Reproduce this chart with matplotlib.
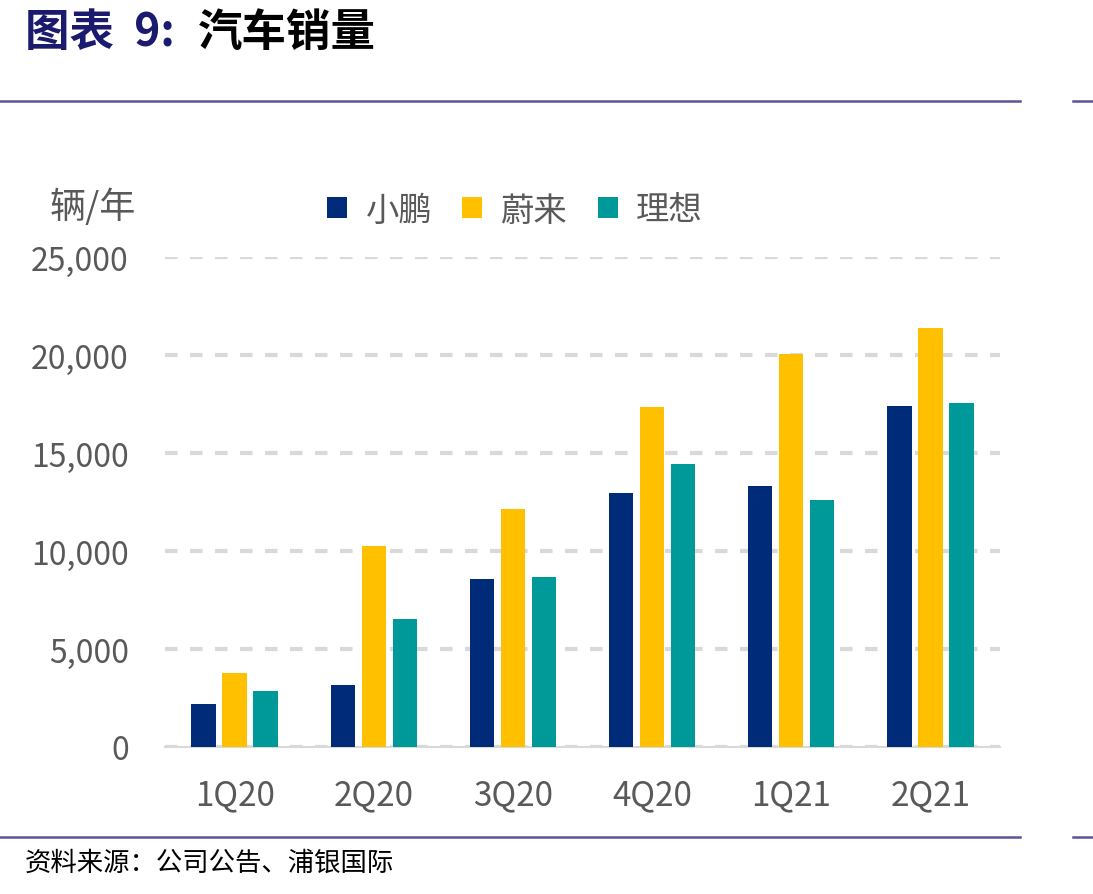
import numpy as np
import matplotlib.pyplot as plt
from matplotlib.lines import Line2D

plt.rcParams['font.family'] = ['Noto Sans CJK SC', 'DejaVu Sans']

quarters = ['1Q20', '2Q20', '3Q20', '4Q20', '1Q21', '2Q21']
xpeng = [2200, 3160, 8580, 12960, 13340, 17400]
nio = [3800, 10250, 12140, 17350, 20060, 21360]
li = [2850, 6550, 8660, 14430, 12580, 17550]
yticks = [0, 5000, 10000, 15000, 20000, 25000]

colors = ['#002b78', '#ffc000', '#009999']
names = ['小鹏', '蔚来', '理想']

fig = plt.figure(figsize=(10.93, 8.95), dpi=100)
ax = fig.add_axes([165 / 1093, 1 - 748 / 895, 835 / 1093, 490 / 895])

x = np.arange(len(quarters))
w = 0.175
off = 0.223
for i, (vals, c, n) in enumerate(zip([xpeng, nio, li], colors, names)):
    ax.bar(x + (i - 1) * off, vals, width=w, color=c, label=n, zorder=3)

ax.set_xlim(-0.5, 5.5)
ax.set_ylim(0, 25000)
ax.set_yticks(yticks)
ax.set_yticklabels([f'{v:,}' for v in yticks])
ax.set_xticks(x)
ax.set_xticklabels(quarters)
ax.yaxis.grid(True, color='#d9d9d9', linestyle=(0, (3, 3)), linewidth=3, zorder=0)
for s in ['top', 'right', 'left']:
    ax.spines[s].set_visible(False)
ax.spines['bottom'].set_color('#d9d9d9')
ax.spines['bottom'].set_linewidth(1.5)
ax.tick_params(axis='both', length=0, colors='#595959')
ax.tick_params(axis='x', pad=22, labelsize=24)
ax.tick_params(axis='y', pad=26, labelsize=23)

fig.text(50 / 1093, 1 - 207 / 895, '辆/年', fontsize=26, color='#595959', va='center')

leg = ax.legend(loc='center', bbox_to_anchor=(515 / 1093, 1 - 211 / 895), bbox_transform=fig.transFigure,
                ncol=3, frameon=False, fontsize=24, handlelength=0.6, handleheight=0.6,
                handletextpad=0.55, columnspacing=0.9)
for t in leg.get_texts():
    t.set_color('#595959')

fig.text(25 / 1093, 1 - 33 / 895, '图表  9:', fontsize=32, fontweight='bold', color='#1a1a6e', va='center')
fig.text(198 / 1093, 1 - 33 / 895, '汽车销量', fontsize=32, fontweight='bold', color='black', va='center')

line_c = '#5b5499'
for yy in [102, 838]:
    fig.add_artist(Line2D([0, 1020 / 1093], [1 - yy / 895] * 2, color=line_c, linewidth=1.8))
    fig.add_artist(Line2D([1073 / 1093, 1], [1 - yy / 895] * 2, color=line_c, linewidth=1.8))

fig.text(25 / 1093, 1 - 863 / 895, '资料来源：公司公告、浦银国际', fontsize=19, color='black', va='center')

fig.savefig('out.png', dpi=100)
